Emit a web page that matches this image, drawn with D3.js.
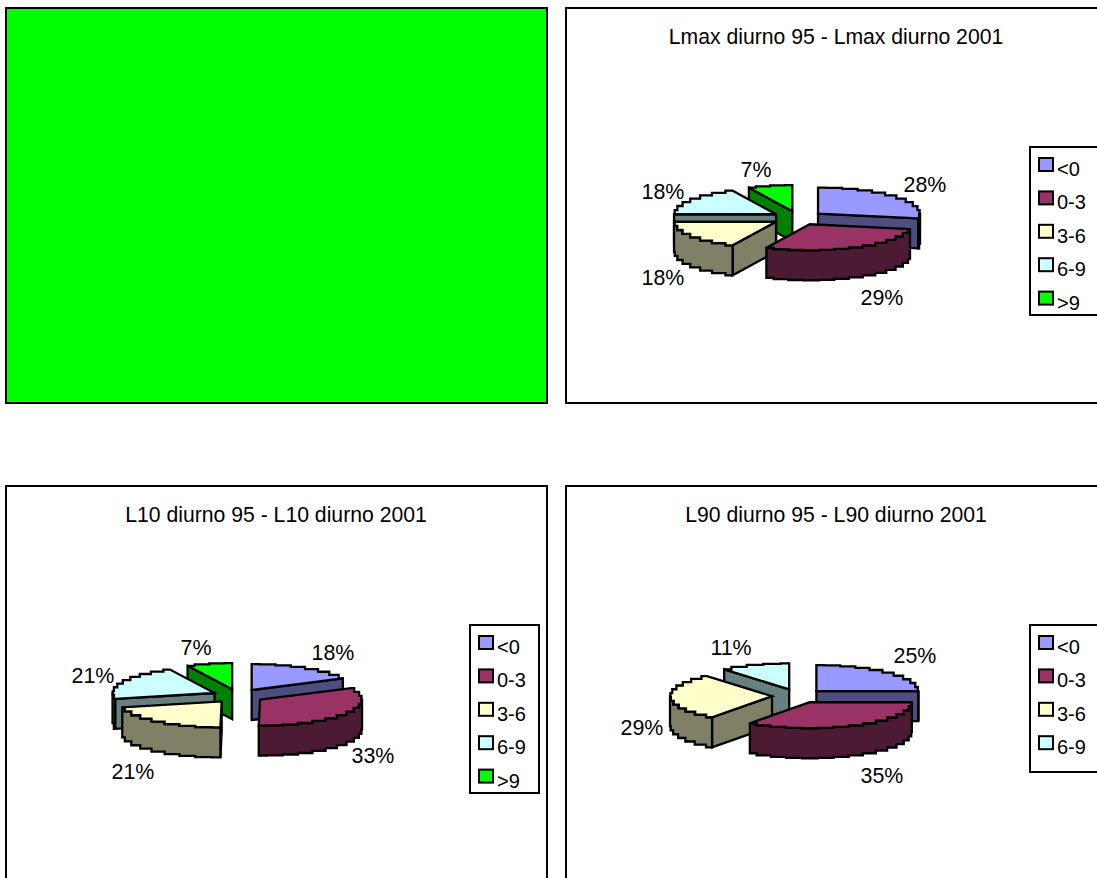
<!DOCTYPE html>
<html>
<head>
<meta charset="utf-8">
<script src="https://cdn.jsdelivr.net/npm/d3@7/dist/d3.min.js"></script>
<style>
html, body { margin: 0; padding: 0; background: #fff; overflow: hidden; }
text { font-family: "Liberation Sans", Arial, sans-serif; fill: #000; }
</style>
</head>
<body>
<div id="chart"></div>
<script>
const categories = ["<0", "0-3", "3-6", "6-9", ">9"]
const lmaxValues = [28, 29, 18, 18, 7]
const l10Values = [17.6, 32.6, 21.2, 21.4, 7.2] // first two slices end about at the bottom
const l90Values = [25, 35, 29, 11]
const lmaxTitle = "Lmax diurno 95 - Lmax diurno 2001"
const l10Title = "L10 diurno 95 - L10 diurno 2001"
const l90Title = "L90 diurno 95 - L90 diurno 2001"

const width = 1097
const height = 878

const topColors = ["#9999ff", "#993366", "#ffffcc", "#ccffff", "#00ff00"]
const sideColors = ["#4d4d80", "#4d1a33", "#808066", "#668080", "#008000"]
const topColor = d3.scaleOrdinal().domain(categories).range(topColors)
const sideColor = d3.scaleOrdinal().domain(categories).range(sideColors)

// pie geometry, same for all three
const rx = 102, ry = 26, depth = 30
const explodeX = 26, explodeY = 7
const stepAngle = 9 * Math.PI / 180
const percent = d3.format(".0f")

const svg = d3.select("#chart").append("svg")
    .attr("width", width)
    .attr("height", height)
    .style("display", "block")

function frame(x0, y0, x1, y1, fill) {
  svg.append("rect")
      .attr("x", x0).attr("y", y0)
      .attr("width", x1 - x0).attr("height", y1 - y0)
      .attr("fill", fill)
      .attr("stroke", "#000")
      .attr("stroke-width", 2)
}

// the old renderer draws rims in little stairs, sample and step it
const stairs = d3.line().curve(d3.curveStep)

function rim(a0, a1, ox, oy) {
  const n = Math.max(1, Math.round((a1 - a0) / stepAngle))
  return d3.range(n + 1).map(i => {
    const a = a0 + (a1 - a0) * i / n
    return [ox + rx * Math.sin(a), oy - ry * Math.cos(a)]
  })
}

function drawPie(values, cx, cy, labelOffsets) {
  const pie = d3.pie().sort(null)(values)
  const slices = pie.map((d, i) => {
    const mid = (d.startAngle + d.endAngle) / 2
    return {
      name: categories[i],
      value: d.value,
      a0: d.startAngle,
      a1: d.endAngle,
      mid,
      ox: cx + explodeX * Math.sin(mid),
      oy: cy - explodeY * Math.cos(mid),
      label: labelOffsets[i]
    }
  })

  // back to front
  const order = slices.slice().sort((a, b) => Math.cos(b.mid) - Math.cos(a.mid))
  const g = svg.append("g")
      .attr("stroke", "#000")
      .attr("stroke-width", 2.3)
      .attr("stroke-linejoin", "miter")

  order.forEach(s => {
    const side = sideColor(s.name)
    const wall = (a) => {
      const px = s.ox + rx * Math.sin(a), py = s.oy - ry * Math.cos(a)
      g.append("path")
          .attr("fill", side)
          .attr("d", `M${s.ox},${s.oy}L${px},${py}L${px},${py + depth}L${s.ox},${s.oy + depth}Z`)
    }
    // cut faces that turn towards the viewer
    if (Math.sin(s.a0) < -0.001) wall(s.a0)
    if (Math.sin(s.a1) > 0.001) wall(s.a1)

    // outer wall, only the front half of the ellipse
    const f0 = Math.max(s.a0, Math.PI / 2), f1 = Math.min(s.a1, Math.PI * 1.5)
    if (f1 > f0) {
      const upper = rim(f0, f1, s.ox, s.oy)
      const lower = rim(f0, f1, s.ox, s.oy + depth).reverse()
      g.append("path")
          .attr("fill", side)
          .attr("d", stairs(upper) + "L" + stairs(lower).slice(1) + "Z")
    }

    // top face
    g.append("path")
        .attr("fill", topColor(s.name))
        .attr("d", `M${s.ox},${s.oy}L` + stairs(rim(s.a0, s.a1, s.ox, s.oy)).slice(1) + "Z")
  })

  svg.append("g").selectAll("text")
    .data(slices)
    .join("text")
      .attr("x", d => cx + d.label[0])
      .attr("y", d => cy + d.label[1])
      .attr("dy", "0.36em")
      .attr("text-anchor", "middle")
      .attr("font-size", 21.4)
      .text(d => percent(d.value) + "%")
}

function drawLegend(count, x0, y0, x1, y1) {
  const names = categories.slice(0, count)
  svg.append("rect")
      .attr("x", x0).attr("y", y0)
      .attr("width", x1 - x0).attr("height", y1 - y0)
      .attr("fill", "#fff")
      .attr("stroke", "#000")
      .attr("stroke-width", 2)

  const y = d3.scalePoint()
      .domain(names)
      .range([y0 + 18, y0 + 18 + 33.4 * (count - 1)])

  const item = svg.append("g").selectAll("g")
    .data(names)
    .join("g")
      .attr("transform", d => `translate(${x0 + 9},${y(d)})`)

  item.append("rect")
      .attr("y", -7)
      .attr("width", 14)
      .attr("height", 13)
      .attr("fill", d => topColor(d))
      .attr("stroke", "#000")
      .attr("stroke-width", 2)

  item.append("text")
      .attr("x", 18)
      .attr("y", 11)
      .attr("font-size", 20)
      .text(d => d)
}

function drawTitle(text, x, y) {
  svg.append("text")
      .attr("x", x)
      .attr("y", y)
      .attr("text-anchor", "middle")
      .attr("font-size", 21.2)
      .text(text)
}

// panels
frame(6, 8, 547, 403, "#00ff00")
frame(566, 8, 1099, 403, "#fff")
frame(6, 486, 547, 882, "#fff")
frame(566, 486, 1099, 882, "#fff")

drawTitle(lmaxTitle, 836, 44)
drawPie(lmaxValues, 798, 218, [[127, -34], [84, 79], [-135, 59], [-135, -27], [-42, -49]])
drawLegend(5, 1030, 147, 1100, 315)

drawTitle(l10Title, 276, 522)
drawPie(l10Values, 238, 696, [[95, -44], [135, 59], [-105, 75], [-145, -21], [-42, -49]])
drawLegend(5, 470, 625, 539, 793)

drawTitle(l90Title, 836, 522)
drawPie(l90Values, 798, 696, [[117, -41], [84, 79], [-156, 31], [-67, -49]])
drawLegend(4, 1030, 625, 1100, 772)
</script>
</body>
</html>
